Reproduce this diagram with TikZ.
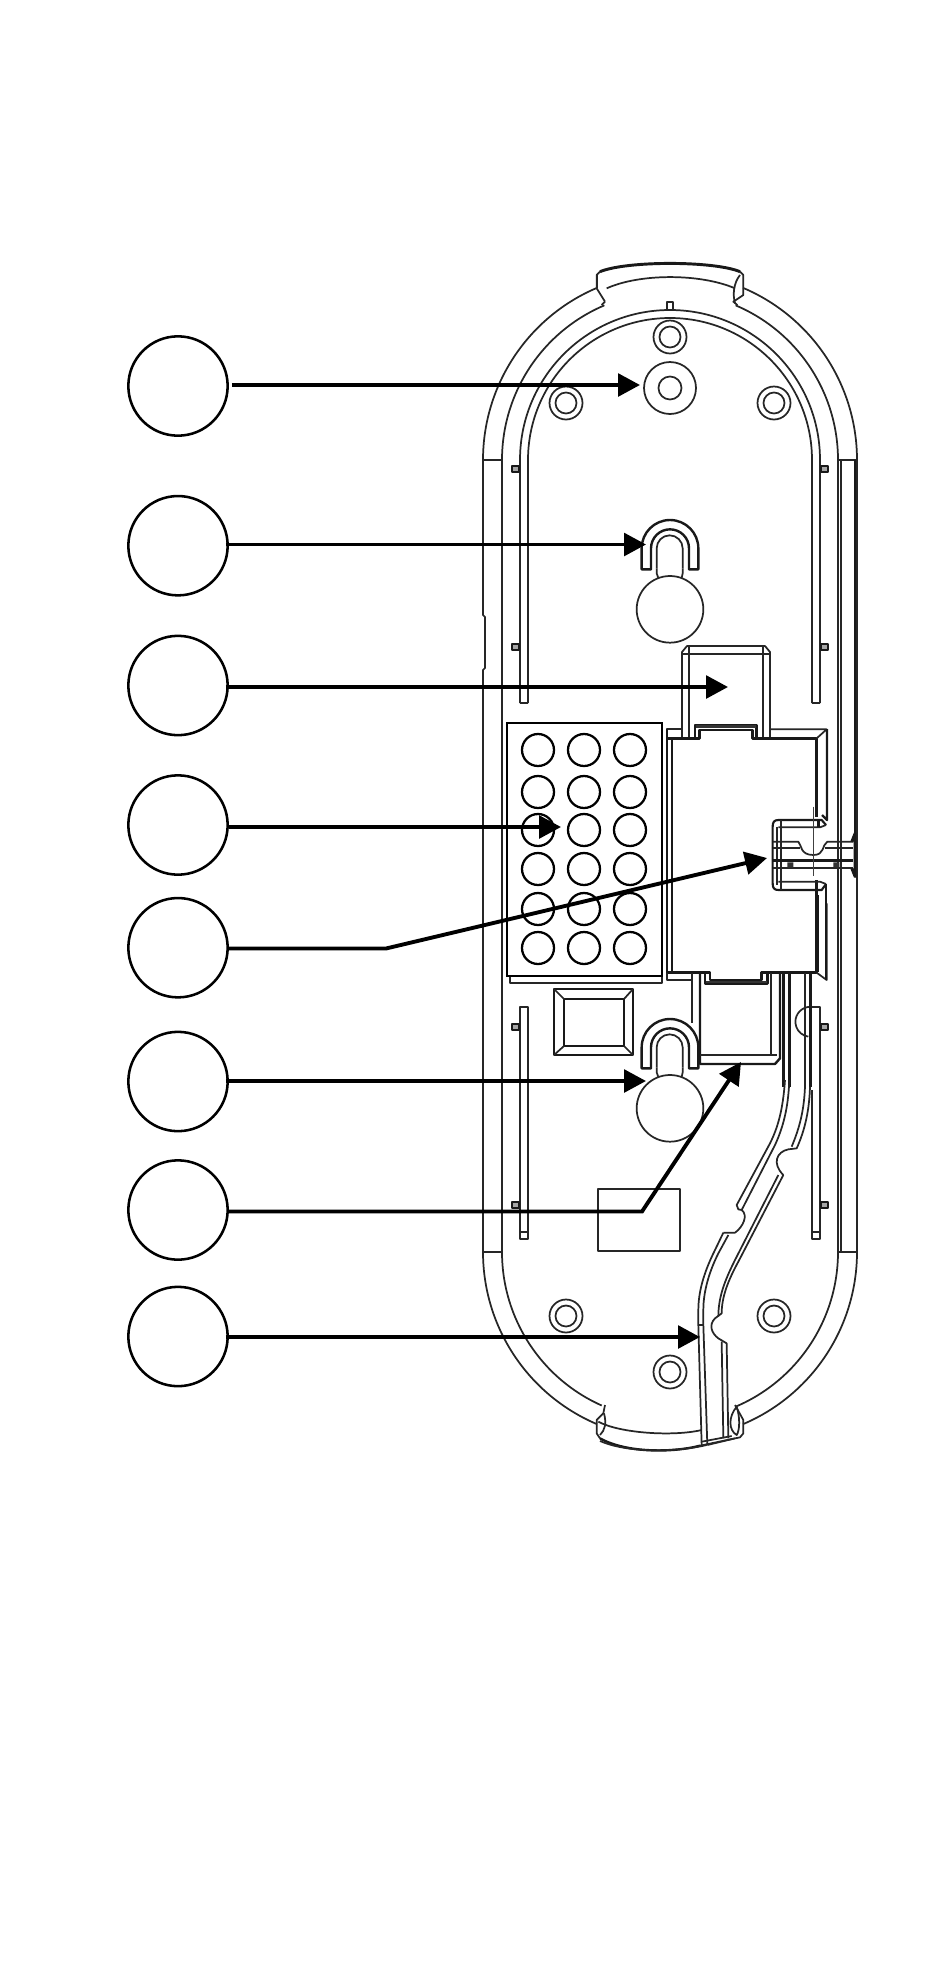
\documentclass[tikz,border=0pt]{standalone}
\usetikzlibrary{arrows.meta,calc}
\def\u{0.75pt}
\tikzset{
  pic unit/.style={x=0.75pt,y=-0.75pt},
  z/.style={shift={#1},x=0.25pt,y=-0.25pt},
  part/.style={draw=black!85,line width=1.3pt,line join=round},
  heavy/.style={draw=black!90,line width=1.8pt,line join=round},
  hair/.style={draw=black!75,line width=0.8pt},
  bold/.style={draw=black,line width=2.2pt,line join=miter},
  label ring/.style={circle,draw=black,line width=1.9pt,minimum size=74.5pt,inner sep=0pt,fill=white},
  conn/.style={draw=black,line width=2.9pt,line join=miter,-{Triangle[length=16.5pt,width=17pt]}},
  hole/.style={draw=black,line width=1.7pt},
}
\begin{document}
\begin{tikzpicture}[pic unit]
\useasboundingbox (0,0) rectangle (950,1974);
\fill[white] (0,0) rectangle (950,1974);

% ---- shell: outer arcs and straight sides
\draw[part] (597,288) -- (597,275);
\draw[part] (483,1252) -- (483,670) -- (485,668) -- (485,617) -- (483,615) -- (483,460) arc[start angle=180,end angle=113,radius=187*\u];
\draw[part] (857,1252) -- (857,460) arc[start angle=0,end angle=67,radius=187*\u];
\draw[part] (502,1252) -- (502,460) arc[start angle=180,end angle=113,radius=168*\u];
\draw[part] (838,1252) -- (838,460) arc[start angle=0,end angle=67,radius=168*\u];
\draw[part] (483,460) -- (502,460) (838,460) -- (857,460) (483,1252) -- (502,1252) (838,1252) -- (857,1252);
\draw[part] (841,460) -- (841,1252);
\draw[heavy] (855,460) -- (855,850);
\draw[part] (483,1252) arc[start angle=180,end angle=247,radius=187*\u];
\draw[part] (857,1252) arc[start angle=0,end angle=-67,radius=187*\u];
\draw[part] (502,1252) arc[start angle=180,end angle=246,radius=168*\u];
\draw[part] (838,1252) arc[start angle=0,end angle=-67,radius=168*\u];

% ---- top tab (reference zoom coordinates)
\begin{scope}[z={(460,240)}]
  \draw[part] (435,185) -- (425,195);
  \draw[part] (435,185) -- (410,145) -- (410,105) -- (420,95);
  \draw[heavy,line width=2.2pt] (420,95) .. controls (500,62) and (760,62) .. (840,95);
  \draw[part] (840,95) -- (850,105) -- (850,165) -- (820,185) -- (832,195);
  \draw[part] (840,105) .. controls (820,130) and (818,165) .. (825,190);
  \draw[part] (440,145) .. controls (540,100) and (720,100) .. (825,145);
  \draw[part] (620,208) -- (620,187) -- (638,187) -- (638,208);
\end{scope}

% ---- inner double wall and upper slots
\draw[part] (520,703) -- (520,460) arc[start angle=180,end angle=0,radius=150*\u] -- (820,703);
\draw[part] (528,703) -- (528,460) arc[start angle=180,end angle=0,radius=142*\u] -- (812,703);
\draw[part] (520,703) -- (528,703) (812,703) -- (820,703);
% ---- lower slots
\draw[part] (520,1007) rectangle (528,1239) (520,1232) -- (528,1232);
\draw[part] (813,1007) -- (820,1007) -- (820,1239) -- (812,1239) -- (812,1090) (812,1232) -- (820,1232);
\draw[part] (813,1007) arc[start angle=80,end angle=262,radius=15*\u];
% ---- stubs
\foreach \sy in {469,647,1027,1205}{
  \draw[heavy,fill=black!35,line width=0.9pt] (512,\sy-3) rectangle (519,\sy+3);
  \draw[heavy,fill=black!35,line width=0.9pt] (821,\sy-3) rectangle (828,\sy+3);
}

% ---- screw bosses
\foreach \bx/\by in {670/337,566/403,774/403,566/1316,774/1316,670/1372}{
  \draw[part] (\bx,\by) circle[radius=16.5*\u];
  \draw[part] (\bx,\by) circle[radius=10.5*\u];
}
\draw[part] (670,388) circle[radius=26*\u];
\draw[part] (670,388) circle[radius=11.5*\u];

% ---- keyholes
\foreach \kdy in {240,739}{
\begin{scope}[z={(460,\kdy)}]
  \draw[heavy] (545,988) -- (545,925) arc[start angle=180,end angle=0,radius=21.25pt] -- (715,988) -- (687,988) -- (687,925) arc[start angle=0,end angle=180,radius=14.25pt] -- (573,988) -- cycle;
  \draw[part] (590,985) -- (590,925) arc[start angle=180,end angle=0,radius=9.75pt] -- (668,985);
  \draw[part] (590,985) -- (590,1000) -- (595,1014) (668,985) -- (668,1000) -- (665,1014);
  \draw[part] (630,1108) circle[radius=25pt];
\end{scope}}

% ---- upper bracket
\draw[part] (682,737) -- (682,652) -- (687,646) -- (765,646) -- (770,652) -- (770,737);
\draw[part] (689,737) -- (689,646) (763,737) -- (763,646) (682,654) -- (770,654);

% ---- centre block
\begin{scope}[z={(660,710)}]
  \draw[heavy] (20,85) -- (118,85) -- (118,60) -- (278,60) -- (278,85) -- (470,85) -- (470,320);
  \draw[part] (20,85) -- (20,58) -- (65,58);
  \draw[part] (330,58) -- (500,58) -- (470,85);
  \draw[heavy] (105,85) -- (105,45) -- (290,45) -- (290,85);
  \draw[draw=black!80,line width=2.4pt] (108,50) -- (288,50);
\end{scope}
\draw[heavy] (827,729) -- (827,820) -- (822,815);
\draw[heavy] (667,729) -- (667,980);
\draw[heavy] (672,738) -- (672,973);
\begin{scope}[z={(660,960)}]
  \draw[heavy] (20,38) -- (150,38) -- (150,60) -- (305,60) -- (305,38) -- (470,38) -- (470,-240);
  \draw[part] (20,38) -- (20,60) -- (95,60);
  \draw[heavy] (135,38) -- (135,70) -- (322,70) -- (322,38);
  \draw[draw=black!80,line width=2.2pt] (137,66) -- (320,66);
  \draw[part] (470,38) -- (500,60) -- (500,-170);
  % lower bracket
  \draw[part] (95,38) -- (95,190);
  \draw[heavy] (120,38) -- (120,312) -- (345,312) -- (360,295) -- (360,40);
  \draw[part] (332,38) -- (332,285) (120,285) -- (335,285) -- (350,285);
  % cable channel, upper run
  \draw[heavy] (370,38) -- (370,380);
  \draw[heavy] (388,38) -- (388,380);
  \draw[part] (435,38) -- (435,380);
  \draw[heavy] (452,38) -- (452,380);
\end{scope}

% ---- connector on the right of the block
\begin{scope}[z={(750,790)}]
  \draw[heavy,line width=1.6pt] (228,105) -- (215,90) -- (85,90) .. controls (72,90) and (68,97) .. (68,110) -- (68,280) .. controls (68,293) and (72,300) .. (85,300) -- (215,300) -- (228,282);
  \draw[part] (85,112) -- (210,112) -- (228,105);
  \draw[part] (85,275) -- (210,275) -- (228,282);
  \draw[part] (92,90) -- (92,300) (80,110) -- (80,285);
  \draw[heavy] (205,90) -- (205,110);
  \draw[part] (68,155) -- (145,155) .. controls (155,165) and (150,195) .. (190,195) .. controls (225,195) and (215,165) .. (232,155) -- (310,155);
  \draw[part] (68,175) -- (150,175) (225,175) -- (310,175);
  \draw[heavy] (68,212) -- (310,212);
  \draw[part] (68,235) -- (310,235);
  \fill[black!80] (112,217) rectangle (130,232) (250,217) rectangle (268,232);
  \draw[hair] (190,50) -- (190,258);
  \draw[heavy,line width=2pt] (305,155) -- (315,130) -- (315,260) -- (305,235);
\end{scope}
\draw[heavy] (818,895) -- (818,972);
\draw[heavy] (826,884) -- (826,980);

% ---- grid panel with speaker holes
\draw[part] (510,976) -- (510,983) -- (662,983) -- (662,976);
\draw[bold,fill=white] (507,723) rectangle (662,976);
\foreach \gx in {538,584,630}{
  \foreach \gy in {750,792,830,869,909,948}{
    \draw[hole] (\gx,\gy) circle[radius=16*\u];
  }
}

% ---- small window
\draw[heavy] (554,989) rectangle (633,1055);
\draw[heavy] (564,999) rectangle (624,1046);
\draw[part] (554,989) -- (564,999) (633,989) -- (624,999) (554,1055) -- (564,1046) (633,1055) -- (624,1046);

% ---- label plate
\draw[part] (598,1189) rectangle (680,1251);

% ---- cable channel and bottom tab
\begin{scope}[z={(460,1080)}]
  % left wall
  \draw[part] (975,0) .. controls (970,70) and (960,130) .. (930,190) -- (830,375) -- (835,388) -- (845,390);
  \draw[part] (988,0) .. controls (985,70) and (975,130) .. (945,195) -- (845,390);
  \draw[part] (845,390) .. controls (865,405) and (850,440) .. (825,458) -- (790,458);
  \draw[part] (790,458) -- (765,510) .. controls (735,570) and (715,630) .. (715,690) -- (715,735) -- (725,1095);
  \draw[part] (805,465) -- (775,520) .. controls (750,570) and (730,630) .. (730,690) -- (730,735) -- (742,1095);
  \draw[part] (715,735) -- (730,735);
  % right wall
  \draw[part] (1050,20) .. controls (1048,90) and (1035,150) .. (1010,205) -- (985,208) .. controls (950,215) and (935,250) .. (970,285);
  \draw[part] (1035,20) .. controls (1032,90) and (1020,140) .. (995,200);
  \draw[part] (970,285) -- (835,545) .. controls (805,600) and (785,650) .. (785,700) -- (765,715) .. controls (745,735) and (755,760) .. (775,775) -- (800,790) -- (805,1075);
  \draw[part] (955,285) -- (825,540) .. controls (795,600) and (775,650) .. (775,710);
  \draw[part] (785,785) -- (790,1075);
  \draw[part] (725,1085) -- (815,1068) (742,1095) -- (825,1075);
  % bottom tab
  \draw[part] (435,975) -- (430,1000) -- (410,1020) -- (410,1060) -- (420,1075);
  \draw[heavy] (420,1075) .. controls (500,1120) and (640,1118) .. (720,1097);
  \draw[part] (420,1083) .. controls (500,1118) and (640,1118) .. (740,1095);
  \draw[part] (720,1097) -- (840,1072) -- (850,1060) -- (850,1020) -- (825,975);
  \draw[part] (432,1000) .. controls (440,1030) and (435,1050) .. (420,1065);
  \draw[part] (830,980) .. controls (805,1010) and (805,1050) .. (830,1065) .. controls (840,1050) and (840,1010) .. (830,980);
  \draw[part] (415,1025) .. controls (480,1060) and (640,1070) .. (725,1050);
\end{scope}

% ---- label rings
\node[label ring] (c1) at (178,386) {};
\node[label ring] (c2) at (178,545.7) {};
\node[label ring] (c3) at (178,685.5) {};
\node[label ring] (c4) at (178,825) {};
\node[label ring] (c5) at (178,947.7) {};
\node[label ring] (c6) at (178,1081.5) {};
\node[label ring] (c7) at (178,1210) {};
\node[label ring] (c8) at (178,1336.5) {};

% ---- connector targets
\coordinate (t1) at (640,385);
\coordinate (t2) at (646,544.5);
\coordinate (t3) at (728,687);
\coordinate (t4) at (561,827);
\coordinate (t5) at (767,858);
\coordinate (b5) at (386,948.5);
\coordinate (t6) at (646,1081);
\coordinate (t7) at (741,1062);
\coordinate (b7) at (642,1211.5);
\coordinate (t8) at (700,1337);

% ---- connectors
\draw[conn] ([xshift=2.25pt]c1.east |- t1) -- (t1);
\draw[conn] ([xshift=-2.25pt]c2.east |- t2) -- (t2);
\draw[conn] ([xshift=-2.25pt]c3.east |- t3) -- (t3);
\draw[conn] (c4.east |- t4) -- (t4);
\draw[conn] (c5.east |- b5) -- (b5) -- (t5);
\draw[conn] ([xshift=-2.25pt]c6.east |- t6) -- (t6);
\draw[conn] (c7.east |- b7) -- (b7) -- (t7);
\draw[conn] ([xshift=-2.25pt]c8.east |- t8) -- (t8);
\end{tikzpicture}
\end{document}
